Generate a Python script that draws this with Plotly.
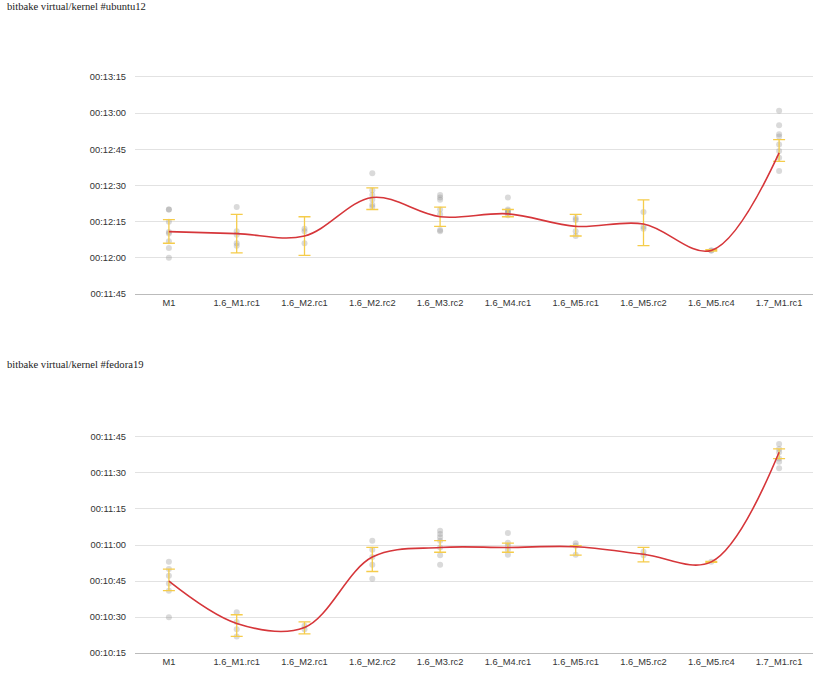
import plotly.graph_objects as go

categories = ["M1", "1.6_M1.rc1", "1.6_M2.rc1", "1.6_M2.rc2", "1.6_M3.rc2",
              "1.6_M4.rc1", "1.6_M5.rc1", "1.6_M5.rc2", "1.6_M5.rc4", "1.7_M1.rc1"]

# values are durations in seconds
ubuntu_runs = [
    [740, 740, 734.9, 730.7, 730, 726.8, 724, 720],
    [741, 731, 729.5, 726, 725],
    [732, 731, 726],
    [755, 748, 746, 744.2, 742, 741],
    [746, 745, 744, 740, 738, 731.5, 731],
    [745, 740, 739.5, 739, 738.6, 737.6],
    [736.5, 735.6, 731, 729],
    [739, 732.8, 732],
    [723, 723],
    [781, 775, 771.2, 770.3, 767, 764.3, 761.5, 756],
]
ubuntu_mean = [730.8, 730, 729, 745, 737, 738.2, 733, 734, 723, 763.5]
ubuntu_hi = [735.8, 738, 737, 749, 741, 740, 738, 744, 723.3, 769]
ubuntu_lo = [726, 722, 721, 740, 733, 737, 729, 725, 722.7, 760]
ubuntu_ticks = [705, 720, 735, 750, 765, 780, 795]
ubuntu_ticktext = ["00:11:45", "00:12:00", "00:12:15", "00:12:30", "00:12:45", "00:13:00", "00:13:15"]

fedora_runs = [
    [653, 650, 647.2, 644, 641, 630],
    [632, 628, 625, 622],
    [626.4, 625],
    [661.8, 658, 655, 651.8, 646],
    [666, 664.6, 663.2, 661.8, 659, 655.8, 651.8],
    [665, 661, 659.7, 658, 656],
    [660.8, 659.7, 656],
    [657.2, 655.8],
    [653],
    [702, 700, 698.6, 696, 694.7, 692],
]
fedora_mean = [645, 627.4, 625.7, 655, 659, 659, 659.3, 656.2, 653, 698.6]
fedora_hi = [650, 631, 628, 659, 661.8, 660.8, 659.8, 659, 653.2, 700]
fedora_lo = [641, 622, 623, 649, 657, 657, 655.8, 653, 652.8, 696]
fedora_ticks = [615, 630, 645, 660, 675, 690, 705]
fedora_ticktext = ["00:10:15", "00:10:30", "00:10:45", "00:11:00", "00:11:15", "00:11:30", "00:11:45"]

titles = ["bitbake virtual/kernel #ubuntu12", "bitbake virtual/kernel #fedora19"]

fig = go.Figure()

def add_panel(runs, mean, hi, lo, xa, ya):
    xs, ys = [], []
    for c, vals in zip(categories, runs):
        for v in vals:
            xs.append(c)
            ys.append(v)
    fig.add_trace(go.Scatter(x=xs, y=ys, mode="markers", xaxis=xa, yaxis=ya,
                             marker=dict(size=6, color="rgba(140,140,140,0.32)"),
                             showlegend=False, hoverinfo="y"))
    fig.add_trace(go.Scatter(x=categories, y=mean, mode="markers", xaxis=xa, yaxis=ya,
                             marker=dict(size=1, color="rgba(0,0,0,0)"),
                             error_y=dict(type="data", symmetric=False,
                                          array=[h - m for h, m in zip(hi, mean)],
                                          arrayminus=[m - l for m, l in zip(mean, lo)],
                                          color="#f5cc4a", thickness=1.3, width=6),
                             showlegend=False, hoverinfo="skip"))
    fig.add_trace(go.Scatter(x=categories, y=mean, mode="lines", xaxis=xa, yaxis=ya,
                             line=dict(color="#d6363a", width=1.6, shape="spline", smoothing=1),
                             showlegend=False))

add_panel(ubuntu_runs, ubuntu_mean, ubuntu_hi, ubuntu_lo, "x", "y")
add_panel(fedora_runs, fedora_mean, fedora_hi, fedora_lo, "x2", "y2")

H = 685.0
W = 829.0
xdom = [135 / W, 813 / W]

axis_font = dict(family="Liberation Sans, Arial, sans-serif", size=9.3, color="#333")

def xaxis(anchor):
    return dict(domain=xdom, anchor=anchor, type="category", range=[-0.5, 9.5],
                showgrid=False, showline=True, linecolor="#bbbbbb", linewidth=1,
                ticks="", tickfont=axis_font, zeroline=False, fixedrange=True)

def yaxis(anchor, dom, rng, tv, tt):
    return dict(domain=dom, anchor=anchor, range=rng, tickvals=tv, ticktext=tt,
                showgrid=True, gridcolor="#e2e2e2", gridwidth=1, showline=False,
                zeroline=False, ticks="", tickfont=axis_font, ticklabelstandoff=8)

fig.update_layout(
    width=829, height=685,
    margin=dict(l=0, r=0, t=0, b=0),
    paper_bgcolor="white", plot_bgcolor="white",
    xaxis=xaxis("y"),
    yaxis=yaxis("x", [1 - 296 / H, 1 - 65.4 / H], [705, 800], ubuntu_ticks, ubuntu_ticktext),
    xaxis2=xaxis("y2"),
    yaxis2=yaxis("x2", [1 - 658 / H, 1 - 428 / H], [615, 710], fedora_ticks, fedora_ticktext),
    annotations=[
        dict(text=titles[0], x=5 / W, y=1 - 7 / H, xref="paper", yref="paper",
             xanchor="left", yanchor="middle", showarrow=False,
             font=dict(family="Liberation Serif, Times New Roman, serif", size=10.6, color="#222")),
        dict(text=titles[1], x=5 / W, y=1 - 367 / H, xref="paper", yref="paper",
             xanchor="left", yanchor="middle", showarrow=False,
             font=dict(family="Liberation Serif, Times New Roman, serif", size=10.6, color="#222")),
    ],
)

fig.write_html("out.html")
